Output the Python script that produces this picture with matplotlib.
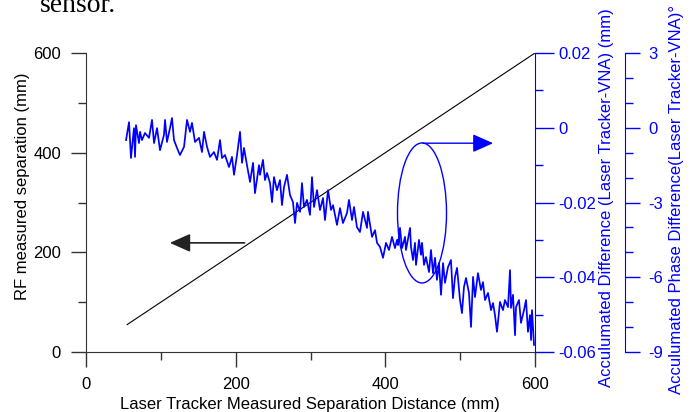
import numpy as np
import matplotlib.pyplot as plt
from matplotlib.patches import Ellipse
from matplotlib.ticker import MultipleLocator

plt.rcParams['font.family'] = ['Liberation Sans', 'DejaVu Sans']
plt.rcParams['axes.unicode_minus'] = False

# RF measured separation vs laser tracker distance (mm)
rf_x = [55, 600]
rf_y = [55, 600]

# accumulated difference (laser tracker - VNA), mm
diff_x = [53.5, 57.5, 60.1, 64.1, 65.5, 66.8, 70.8, 72.2, 74.8, 78.8,
          84.2, 88.2, 90.9, 94.9, 98.9, 104.2, 105.6, 108.2, 112.2, 114.9,
          117.6, 121.6, 125.6, 131.0, 135.0, 139.0, 141.6, 145.7, 151.0, 155.0,
          157.7, 161.7, 165.7, 171.0, 175.1, 179.1, 181.7, 185.7, 191.1, 195.1,
          197.8, 201.8, 205.8, 208.5, 211.1, 215.1, 219.2, 223.2, 225.8, 231.2,
          232.5, 236.5, 239.2, 241.9, 245.9, 248.6, 251.2, 255.2, 259.2, 261.9,
          264.6, 268.6, 272.6, 276.6, 279.3, 282.0, 286.0, 288.6, 291.3, 295.3,
          299.3, 302.0, 304.7, 308.7, 312.7, 316.7, 319.4, 323.4, 327.4, 330.1,
          335.4, 339.4, 343.4, 348.8, 351.4, 355.5, 358.1, 362.1, 366.1, 370.2,
          375.5, 376.8, 382.2, 386.2, 388.9, 392.9, 396.9, 400.9, 404.9, 408.9,
          412.9, 415.6, 416.9, 419.6, 422.3, 426.3, 427.6, 433.0, 434.3, 437.0,
          439.6, 441.0, 445.0, 447.7, 449.0, 451.7, 454.3, 458.4, 461.0, 463.7,
          466.4, 469.0, 471.7, 474.4, 477.1, 479.7, 483.7, 487.7, 490.4, 493.1,
          495.8, 499.8, 502.4, 505.1, 507.8, 511.8, 514.5, 517.2, 519.8, 523.8,
          527.8, 530.5, 533.2, 537.2, 541.2, 543.9, 546.5, 549.2, 553.2, 557.2,
          559.9, 563.9, 566.6, 567.9, 570.6, 573.3, 574.6, 578.6, 581.3, 585.3,
          588.0, 590.6, 593.3, 594.7, 596.0, 598.7]
diff_y = [-0.0033, 0.0015, -0.0081, -0.0001, -0.0078, 0.0007, -0.0041, -0.0011, -0.0033, -0.0014,
          -0.0027, 0.0021, -0.0041, -0.0001, -0.0060, -0.0019, 0.0021, -0.0038, -0.0001, 0.0026,
          -0.0033, -0.0054, -0.0073, -0.0051, 0.0021, -0.0011, 0.0013, -0.0038, -0.0027, -0.0065,
          -0.0011, -0.0051, -0.0078, -0.0065, -0.0086, -0.0033, -0.0081, -0.0073, -0.0105, -0.0078,
          -0.0126, -0.0073, -0.0011, -0.0094, -0.0054, -0.0100, -0.0145, -0.0094, -0.0175, -0.0100,
          -0.0126, -0.0086, -0.0140, -0.0121, -0.0148, -0.0199, -0.0132, -0.0167, -0.0140, -0.0207,
          -0.0159, -0.0126, -0.0180, -0.0199, -0.0255, -0.0201, -0.0225, -0.0148, -0.0212, -0.0193,
          -0.0233, -0.0132, -0.0212, -0.0167, -0.0220, -0.0188, -0.0247, -0.0167, -0.0220, -0.0207,
          -0.0260, -0.0215, -0.0255, -0.0228, -0.0193, -0.0247, -0.0212, -0.0266, -0.0279, -0.0225,
          -0.0268, -0.0225, -0.0292, -0.0274, -0.0308, -0.0319, -0.0348, -0.0308, -0.0327, -0.0292,
          -0.0322, -0.0300, -0.0314, -0.0268, -0.0322, -0.0292, -0.0327, -0.0268, -0.0319, -0.0354,
          -0.0308, -0.0367, -0.0300, -0.0340, -0.0308, -0.0367, -0.0346, -0.0386, -0.0327, -0.0389,
          -0.0348, -0.0407, -0.0362, -0.0447, -0.0362, -0.0415, -0.0373, -0.0354, -0.0456, -0.0399,
          -0.0375, -0.0461, -0.0496, -0.0426, -0.0402, -0.0442, -0.0533, -0.0399, -0.0453, -0.0389,
          -0.0434, -0.0413, -0.0461, -0.0442, -0.0488, -0.0469, -0.0501, -0.0546, -0.0466, -0.0488,
          -0.0461, -0.0480, -0.0381, -0.0482, -0.0447, -0.0555, -0.0480, -0.0461, -0.0522, -0.0488,
          -0.0461, -0.0546, -0.0501, -0.0568, -0.0488, -0.0581]

x_ticks = [0, 200, 400, 600]
left_ticks = [0, 200, 400, 600]
diff_ticks = [-0.06, -0.04, -0.02, 0, 0.02]
diff_labels = ['-0.06', '-0.04', '-0.02', '0', '0.02']
phase_ticks = [-9, -6, -3, 0, 3]

blue = '#0000ff'
axc = '#333333'

fig = plt.figure(figsize=(7, 4.12), dpi=100)
ax = fig.add_axes([86 / 700, 60 / 412, 449 / 700, 299 / 412])

ax.plot(rf_x, rf_y, color='black', lw=0.8)
ax.set_xlim(0, 600)
ax.set_ylim(0, 600)
ax.set_xticks(x_ticks)
ax.set_yticks(left_ticks)
ax.xaxis.set_minor_locator(MultipleLocator(100))
ax.yaxis.set_minor_locator(MultipleLocator(100))
ax.spines['top'].set_visible(False)
ax.spines['right'].set_visible(False)
for s in ['left', 'bottom']:
    ax.spines[s].set_color(axc)
ax.tick_params(which='major', direction='out', length=11, width=1, color=axc, labelsize=12, pad=7)
ax.tick_params(which='minor', direction='out', length=6, width=1, color=axc)

# annotation arrows and ellipse
ax.annotate('', xy=(112, 219), xytext=(212, 219),
            arrowprops=dict(arrowstyle='-|>,head_length=0.9,head_width=0.4', color='#222222',
                            lw=1.2, mutation_scale=14, shrinkA=0, shrinkB=0))
ax.annotate('', xy=(544, 419), xytext=(450, 419),
            arrowprops=dict(arrowstyle='-|>,head_length=0.9,head_width=0.4', color=blue,
                            lw=1.0, mutation_scale=14, shrinkA=0, shrinkB=0))
ax.add_patch(Ellipse((449, 279), 65.5, 281, fill=False, edgecolor=blue, lw=1.0))

ax1 = ax.twinx()
ax1.plot(diff_x, diff_y, color=blue, lw=1.25)
ax1.set_ylim(-0.06, 0.02)
ax1.set_yticks(diff_ticks)
ax1.set_yticklabels(diff_labels)
ax1.yaxis.set_minor_locator(MultipleLocator(0.01))
for s in ['top', 'left', 'bottom']:
    ax1.spines[s].set_visible(False)
ax1.spines['right'].set_color(blue)
ax1.tick_params(which='major', direction='out', length=14, width=1, color=blue,
                labelcolor=blue, labelsize=12, pad=3)
ax1.tick_params(which='minor', direction='out', length=6, width=1, color=blue)

ax2 = ax.twinx()
ax2.spines['right'].set_position(('axes', (625 - 86) / 449))
ax2.set_ylim(-9, 3)
ax2.set_yticks(phase_ticks)
ax2.yaxis.set_minor_locator(MultipleLocator(1))
for s in ['top', 'left', 'bottom']:
    ax2.spines[s].set_visible(False)
ax2.spines['right'].set_color(blue)
ax2.tick_params(which='major', direction='out', length=11, width=1, color=blue,
                labelcolor=blue, labelsize=12, pad=6)
ax2.tick_params(which='minor', direction='out', length=6, width=1, color=blue)

fig.text(310 / 700, 1 - 404 / 412, 'Laser Tracker Measured Separation Distance (mm)',
         ha='center', va='center', fontsize=12)
fig.text(23 / 700, 1 - 186 / 412, 'RF measured separation (mm)',
         ha='center', va='center', rotation=90, fontsize=12)
fig.text(607 / 700, 1 - 198 / 412, 'Acculumated Difference (Laser Tracker-VNA) (mm)',
         ha='center', va='center', rotation=90, fontsize=12, color=blue)
fig.text(677 / 700, 1 - 200 / 412, 'Acculumated Phase Difference(Laser Tracker-VNA)\u00b0',
         ha='center', va='center', rotation=90, fontsize=12, color=blue)
fig.text(40 / 700, 1 - 12 / 412, 'sensor.', ha='left', va='baseline', fontsize=20,
         family='Liberation Serif')

fig.savefig('out.png', dpi=100)
